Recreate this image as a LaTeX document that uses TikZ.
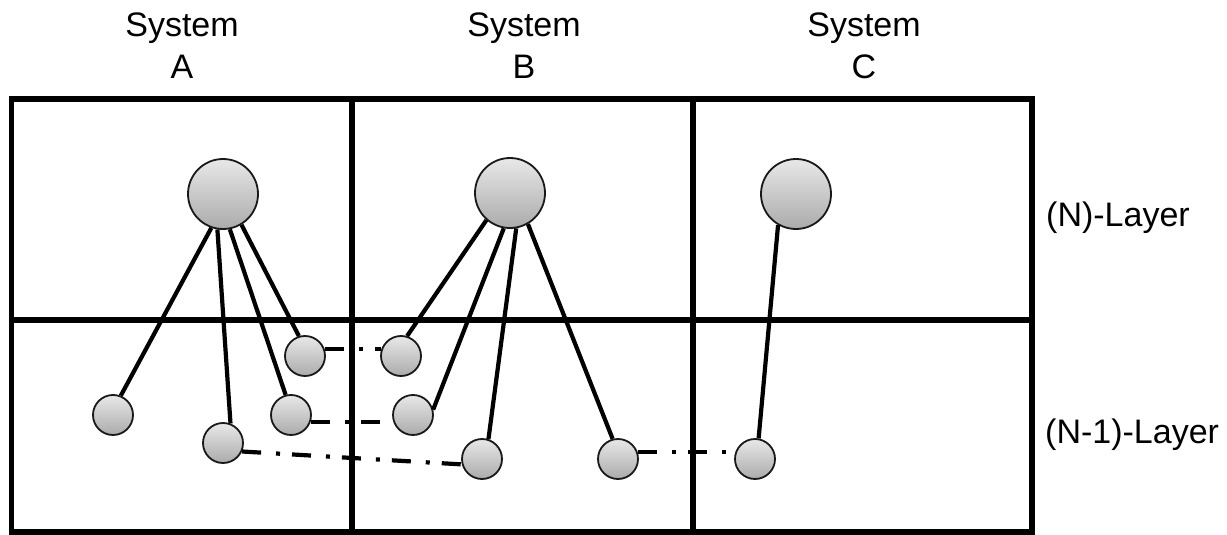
\documentclass[tikz,border=0pt]{standalone}
\usepackage{fontspec}
\setmainfont{Liberation Sans}
\begin{document}
\begin{tikzpicture}[x=1pt,y=-1pt,
  grid/.style={line width=5.5pt},
  ent/.style={circle,draw=black!90,line width=1.8pt,inner sep=0pt,
    top color=black!9,bottom color=black!33},
  big/.style={ent,minimum size=70pt},
  small/.style={ent,minimum size=40pt},
  conn/.style={line width=4.2pt},
  dd/.style={line width=4.2pt,dash pattern=on 19pt off 15pt on 4pt off 12pt},
  lbl/.style={font=\fontsize{34}{40}\selectfont,anchor=base,inner sep=0pt}]
\useasboundingbox (0,0) rectangle (1227,535);
% grid
\draw[grid] (11.5,99) rectangle (1032,532);
\draw[grid] (11.5,320) -- (1032,320);
\draw[grid] (352,99) -- (352,532);
\draw[grid] (693,99) -- (693,532);
% labels
\node[lbl] (sa) at (182,37) {System};
\node[lbl] (la) at (182,78) {A};
\node[lbl] (sb) at (524,37) {System};
\node[lbl] (lb) at (524,78) {B};
\node[lbl] (sc) at (864,37) {System};
\node[lbl] (lc) at (864,78) {C};
\node[lbl,anchor=base west] (nl) at (1046,226) {(N)-Layer};
\node[lbl,anchor=base west] (n1l) at (1045,443) {(N-1)-Layer};
% entities
\node[big] (A) at (223,194) {};
\node[big] (B) at (510,193) {};
\node[big] (C) at (796,194) {};
\node[small] (A1) at (113,415) {};
\node[small] (A2) at (223,443) {};
\node[small] (A3) at (291,415) {};
\node[small] (A4) at (305,356) {};
\node[small] (B1) at (401,356) {};
\node[small] (B2) at (413,415) {};
\node[small] (B3) at (482,459) {};
\node[small] (B4) at (618,459) {};
\node[small] (C1) at (755,459) {};
% vertical connectors
\draw[conn] (A.-109) -- (A1.68);
\draw[conn] (A.-99) -- (A2.69);
\draw[conn] (A.-79) -- (A3.105);
\draw[conn] (A.-59) -- (A4.107);
\draw[conn] (B.-131) -- (B1.73);
\draw[conn] (B.-100) -- (B2.15);
\draw[conn] (B.-80) -- (B3.72);
\draw[conn] (B.-60) -- (B4.105);
\draw[conn] (C.-120) -- (C1.80);
% peer connectors
\draw[dd] (A4.19) -- (B1.161);
\draw[dd] (A3.-19) -- (B2.199);
\draw[dd] (A2.-24) -- (B3.195);
\draw[dd] (B4.19) -- (C1.161);
\end{tikzpicture}
\end{document}
